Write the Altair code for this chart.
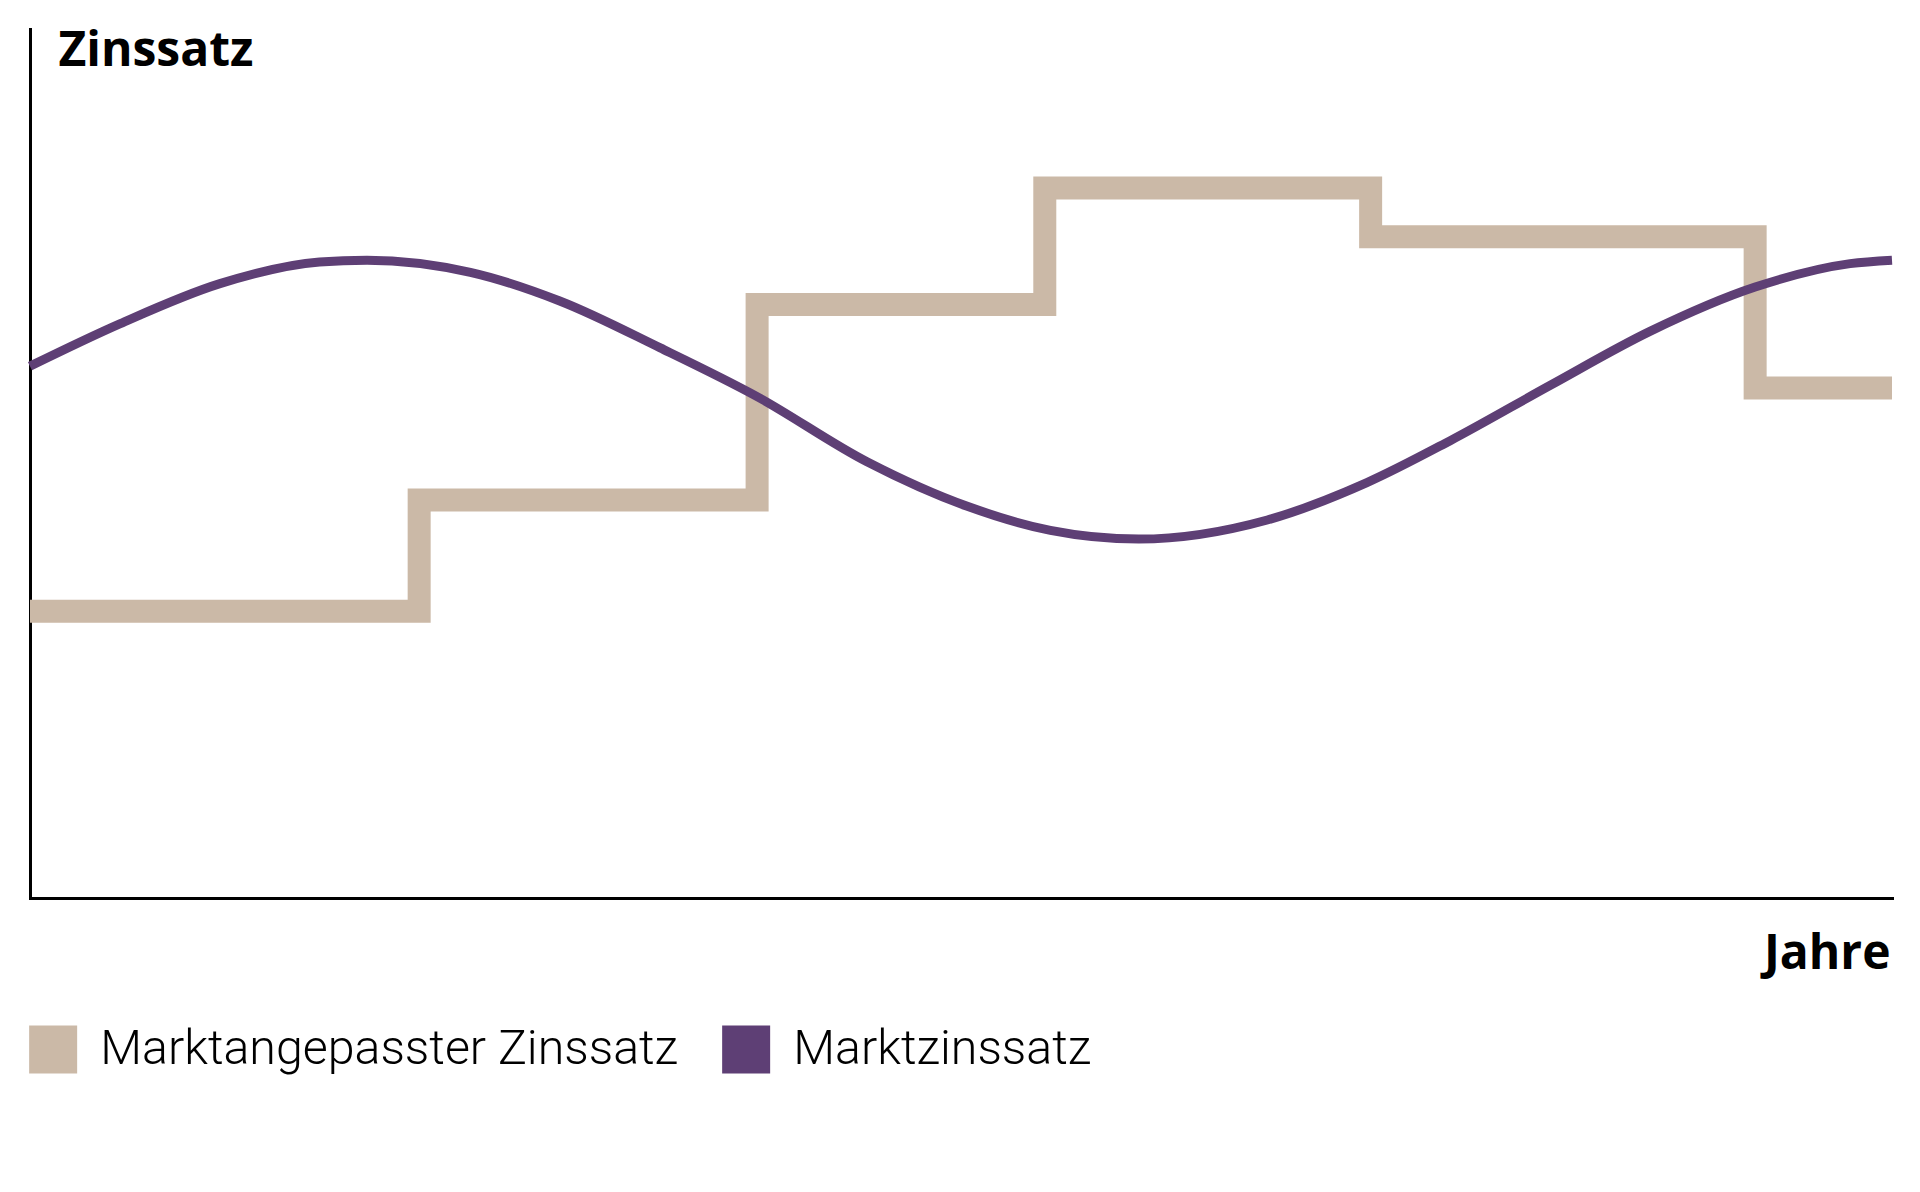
import altair as alt
import pandas as pd

# Marktangepasster Zinssatz: level changes at these years (last point closes the final step)
step_years = [0.0, 4.18, 7.81, 10.90, 14.40, 18.53, 20.0]
step_rates = [3.30, 4.58, 6.83, 8.17, 7.61, 5.87, 5.87]

# Marktzinssatz: smooth market curve
market_years = [0.0, 0.97, 2.04, 3.11, 3.62, 4.73, 5.69, 6.77, 7.81, 8.99, 10.06,
                10.96, 11.91, 13.29, 14.36, 15.25, 16.33, 17.40, 18.53, 19.55, 20.0]
market_rates = [6.12, 6.61, 7.07, 7.32, 7.34, 7.20, 6.87, 6.33, 5.77, 5.02, 4.51,
                4.23, 4.13, 4.35, 4.78, 5.26, 5.90, 6.52, 7.03, 7.30, 7.34]

series_names = ["Marktangepasster Zinssatz", "Marktzinssatz"]
series_colors = ["#CBB9A7", "#5E3F75"]

df_step = pd.DataFrame({"jahr": step_years, "zins": step_rates, "serie": series_names[0]})
df_market = pd.DataFrame({"jahr": market_years, "zins": market_rates, "serie": series_names[1]})
df_all = pd.concat([df_step, df_market], ignore_index=True)

x_axis = alt.Axis(
    domain=True, domainColor="black", domainWidth=3, domainCap="square",
    ticks=False, labels=False, grid=False,
    titleFont="Open Sans", titleFontSize=48, titleFontWeight="bold", titleColor="black",
    titleAlign="right", titleBaseline="alphabetic", titleX=1860, titleY=70,
)
y_axis = alt.Axis(
    domain=True, domainColor="black", domainWidth=3, domainCap="square",
    ticks=False, labels=False, grid=False,
    titleFont="Open Sans", titleFontSize=48, titleFontWeight="bold", titleColor="black",
    titleAngle=0, titleAlign="left", titleBaseline="alphabetic", titleX=28, titleY=36,
)

x_enc = alt.X("jahr:Q", title="Jahre", axis=x_axis,
              scale=alt.Scale(domain=[0, 20], nice=False, zero=False))
y_enc = alt.Y("zins:Q", title="Zinssatz", axis=y_axis,
              scale=alt.Scale(domain=[0, 10], nice=False, zero=False))

step_line = alt.Chart(df_step).mark_line(
    interpolate="step-after", color=series_colors[0], strokeWidth=23,
    strokeJoin="miter", strokeCap="butt",
).encode(x=x_enc, y=y_enc)

market_line = alt.Chart(df_market).mark_line(
    interpolate="monotone", color=series_colors[1], strokeWidth=9,
).encode(x=x_enc, y=y_enc)

# zero-size squares that only carry the colour legend
legend_layer = alt.Chart(df_all).mark_square(size=0, opacity=1, filled=True).encode(
    x=x_enc, y=y_enc,
    color=alt.Color(
        "serie:N",
        scale=alt.Scale(domain=series_names, range=series_colors),
        legend=alt.Legend(
            title=None, orient="none", legendX=-1, legendY=996,
            direction="horizontal", columns=2, padding=0,
            symbolType="square", symbolSize=2304, symbolStrokeWidth=0, symbolOpacity=1,
            labelFont="Roboto", labelFontSize=48.3, labelFontWeight=300, labelColor="black",
            labelOffset=23, columnPadding=43, labelLimit=1000,
        ),
    ),
)

chart = alt.layer(step_line, market_line, legend_layer).properties(
    width=1862, height=869,
    autosize=alt.AutoSizeParams(type="none"),
    padding={"left": 30, "top": 29, "right": 28, "bottom": 294},
    background="white",
).configure_view(stroke=None)

chart.save("out.html", embed_options={"renderer": "svg", "actions": False})
